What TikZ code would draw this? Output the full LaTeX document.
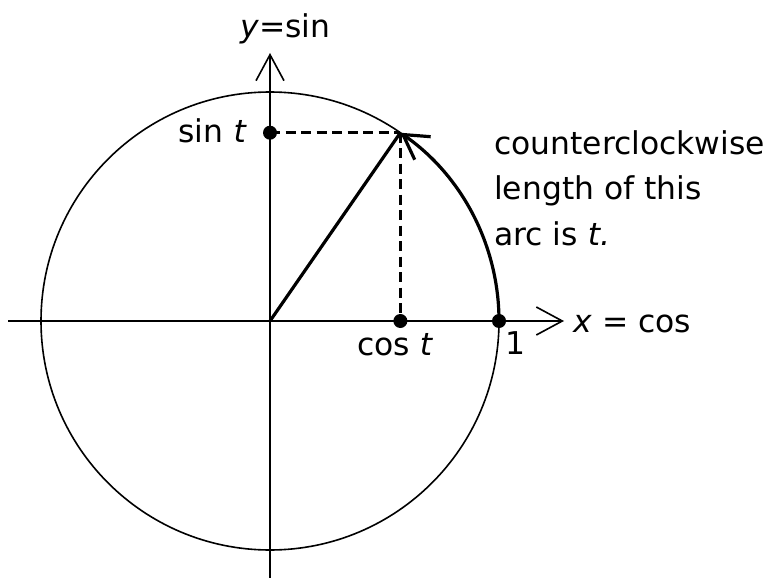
\documentclass[tikz,border=0pt]{standalone}
\usepackage{fontspec}
\setmainfont{DejaVu Sans}
\usetikzlibrary{arrows.meta}
\begin{document}
\begin{tikzpicture}[x=1bp,y=-1bp,
  thin line/.style={line width=1.6bp},
  thick line/.style={line width=3.2bp},
  open tip/.style={-{Straight Barb[length=26bp,width=28bp,line width=1.6bp]}},
  open tip thick/.style={-{Straight Barb[length=24bp,width=28bp,line width=3.2bp]}},
  dashline/.style={line width=3.2bp,dash pattern=on 10bp off 5.5bp},
  dot/.style={circle,fill=black,inner sep=0pt,minimum size=14bp},
  lbl/.style={font=\fontsize{31.5}{45}\selectfont,inner sep=0pt}]
\useasboundingbox (0,0) rectangle (774,578);
\coordinate (O) at (270,321);
\coordinate (L) at (8,321);
\coordinate (Xend) at (564,321);
\coordinate (B) at (270,578);
\coordinate (Yend) at (270,53);
\coordinate (A) at (499,321);
\path (O) ++(-55.3:229) coordinate (P);
\path (P |- O) coordinate (C);
\path (P -| O) coordinate (S);
% circle and axes
\draw[thin line] (O) circle[radius=229];
\draw[thin line,open tip] (L) -- (Xend);
\draw[thin line,open tip] (B) -- (Yend);
% dashed projections
\draw[dashline] (S) -- (P);
\draw[dashline] (P) -- (C);
% radius and arc
\draw[thick line] (O) -- (P);
\draw[thick line,open tip thick] (A) arc[start angle=0,end angle=-55.3,radius=229];
% dots
\node[dot] (dS) at (S) {};
\node[dot] (dC) at (C) {};
\node[dot] (dA) at (A) {};
% labels
\node[lbl,anchor=base west] (ylab) at (240,38) {\textit{y}=sin};
\node[lbl,anchor=base west] (xlab) at (573,332) {\textit{x} = cos};
\node[lbl,anchor=base west] (one) at (505,354) {1};
\node[lbl,anchor=base west] (costl) at (357,355) {cos \textit{t}};
\node[lbl,anchor=base east] (sintl) at (247,143) {sin \textit{t}};
\node[lbl,anchor=base west] (t1) at (494,155) {counterclockwise};
\node[lbl,anchor=base west] (t2) at (494,200) {length of this};
\node[lbl,anchor=base west] (t3) at (494,245) {arc is \textit{t.}};
\end{tikzpicture}
\end{document}
